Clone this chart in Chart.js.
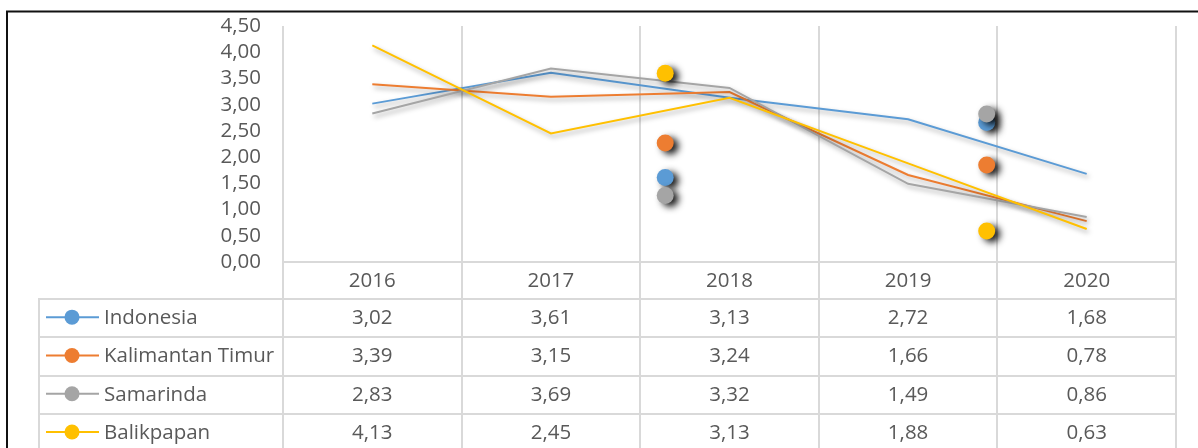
<!DOCTYPE html>
<html><head><meta charset="utf-8">
<script src="https://cdn.jsdelivr.net/npm/chart.js@4.4.1/dist/chart.umd.min.js"></script>
<style>html,body{margin:0;padding:0;background:#fff;overflow:hidden}#wrap{width:1198px;height:448px;position:relative}</style>
</head><body><div id="wrap"><canvas id="c" width="1198" height="448"></canvas></div>
<script>
// ---- data ----
const years = ['2016', '2017', '2018', '2019', '2020'];
const seriesNames = ['Indonesia', 'Kalimantan Timur', 'Samarinda', 'Balikpapan'];
const indonesia = [3.02, 3.61, 3.13, 2.72, 1.68];
const kaltim = [3.39, 3.15, 3.24, 1.66, 0.78];
const samarinda = [2.83, 3.69, 3.32, 1.49, 0.86];
const balikpapan = [4.13, 2.45, 3.13, 1.88, 0.63];
const yTicks = [0, 0.5, 1, 1.5, 2, 2.5, 3, 3.5, 4, 4.5];
// detached markers (position in category units, values per series)
const strayX = [1.64, 3.44];
const strayIndonesia = [1.61, 2.66];
const strayKaltim = [2.27, 1.85];
const straySamarinda = [1.27, 2.82];
const strayBalikpapan = [3.60, 0.59];

const seriesValues = [indonesia, kaltim, samarinda, balikpapan];
const strayValues = [strayIndonesia, strayKaltim, straySamarinda, strayBalikpapan];
const colors = ['#5B9BD5', '#ED7D31', '#A5A5A5', '#FFC000'];
const FONT = '"Open Sans", "Noto Sans", sans-serif';
const FSIZE = 20.5;
const TXT = '#595959';
const GRID = '#d9d9d9';
const fmt = v => v.toFixed(2).replace('.', ',');

const datasets = [];
seriesValues.forEach((vals, s) => {
  datasets.push({
    label: seriesNames[s], kind: 'line',
    data: vals.map((v, i) => ({x: i, y: v})),
    borderColor: colors[s], backgroundColor: colors[s],
    borderWidth: 2, pointRadius: 0, tension: 0, fill: false,
    order: 20 - s
  });
});
strayValues.forEach((vals, s) => {
  datasets.push({
    label: seriesNames[s] + ' marker', kind: 'marker',
    data: vals.map((v, i) => ({x: strayX[i], y: v})),
    showLine: false,
    borderColor: colors[s], backgroundColor: colors[s],
    pointRadius: 8.5, pointBorderWidth: 0,
    order: 10 - s
  });
});

const shadowPlugin = {
  id: 'shadow',
  beforeDatasetDraw(chart, args) {
    const ds = chart.data.datasets[args.index];
    const ctx = chart.ctx;
    ctx.save();
    if (ds.kind === 'marker') {
      ctx.shadowColor = 'rgba(0,0,0,0.9)';
      ctx.shadowBlur = 7; ctx.shadowOffsetX = 5; ctx.shadowOffsetY = 3;
    } else {
      ctx.shadowColor = 'rgba(0,0,0,0.35)';
      ctx.shadowBlur = 5; ctx.shadowOffsetX = 2; ctx.shadowOffsetY = 3;
    }
  },
  afterDatasetDraw(chart) { chart.ctx.restore(); }
};

const tablePlugin = {
  id: 'table',
  afterDraw(chart) {
    const ctx = chart.ctx;
    const xs = chart.scales.x;
    const area = chart.chartArea;
    const headBottom = area.bottom + 37;
    const rowH = 38.3;
    const leftX = 39;
    const H = chart.height;
    ctx.save();
    ctx.strokeStyle = GRID; ctx.lineWidth = 2;
    for (let i = 0; i <= years.length; i++) {
      const x = Math.round(xs.getPixelForValue(i - 0.5));
      ctx.beginPath(); ctx.moveTo(x, area.bottom); ctx.lineTo(x, H); ctx.stroke();
    }
    ctx.beginPath(); ctx.moveTo(leftX, headBottom); ctx.lineTo(leftX, H); ctx.stroke();
    for (let r = 0; r < seriesNames.length; r++) {
      const y = Math.round(headBottom + r * rowH);
      ctx.beginPath(); ctx.moveTo(leftX - 1, y); ctx.lineTo(area.right + 1, y); ctx.stroke();
    }
    ctx.font = FSIZE + 'px ' + FONT;
    ctx.fillStyle = TXT;
    ctx.textBaseline = 'middle';
    seriesNames.forEach((name, s) => {
      const cy = headBottom + s * rowH + rowH / 2;
      ctx.strokeStyle = colors[s]; ctx.lineWidth = 2;
      ctx.beginPath(); ctx.moveTo(46, cy - 1); ctx.lineTo(99, cy - 1); ctx.stroke();
      ctx.fillStyle = colors[s];
      ctx.beginPath(); ctx.arc(72, cy - 1, 7.5, 0, Math.PI * 2); ctx.fill();
      ctx.fillStyle = TXT;
      ctx.textAlign = 'left';
      ctx.fillText(name, 104, cy);
      ctx.textAlign = 'center';
      seriesValues[s].forEach((v, i) => {
        ctx.fillText(fmt(v), xs.getPixelForValue(i), cy);
      });
    });
    ctx.strokeStyle = '#111'; ctx.lineWidth = 2;
    ctx.beginPath(); ctx.moveTo(7, H); ctx.lineTo(7, 11.5); ctx.lineTo(chart.width, 11.5); ctx.stroke();
    ctx.restore();
  }
};

new Chart(document.getElementById('c'), {
  type: 'line',
  data: {datasets},
  options: {
    responsive: false, animation: false, devicePixelRatio: 1,
    layout: {padding: {left: 0, top: 26, right: 22, bottom: 0}},
    plugins: {legend: {display: false}, tooltip: {enabled: false}},
    scales: {
      x: {
        type: 'linear', min: -0.5, max: 4.5,
        afterBuildTicks: sc => { sc.ticks = years.map((_, i) => ({value: i})); },
        afterFit: sc => { sc.height = 186; sc.paddingLeft = 0; sc.paddingRight = 0; },
        grid: {display: true, offset: true, color: GRID, lineWidth: 2, drawTicks: false},
        border: {display: true, color: GRID, width: 2},
        ticks: {padding: 7, color: TXT, font: {family: FONT, size: FSIZE}, maxRotation: 0, autoSkip: false,
          callback: v => years[v]}
      },
      y: {
        type: 'linear', min: 0, max: 4.5,
        afterBuildTicks: sc => { sc.ticks = yTicks.map(v => ({value: v})); },
        afterFit: sc => { sc.width = 283; sc.paddingTop = 0; sc.paddingBottom = 0; },
        grid: {display: false, drawTicks: false},
        border: {display: false},
        ticks: {padding: 22, color: TXT, font: {family: FONT, size: FSIZE}, autoSkip: false,
          callback: v => fmt(v)}
      }
    }
  },
  plugins: [shadowPlugin, tablePlugin]
});
</script></body></html>
